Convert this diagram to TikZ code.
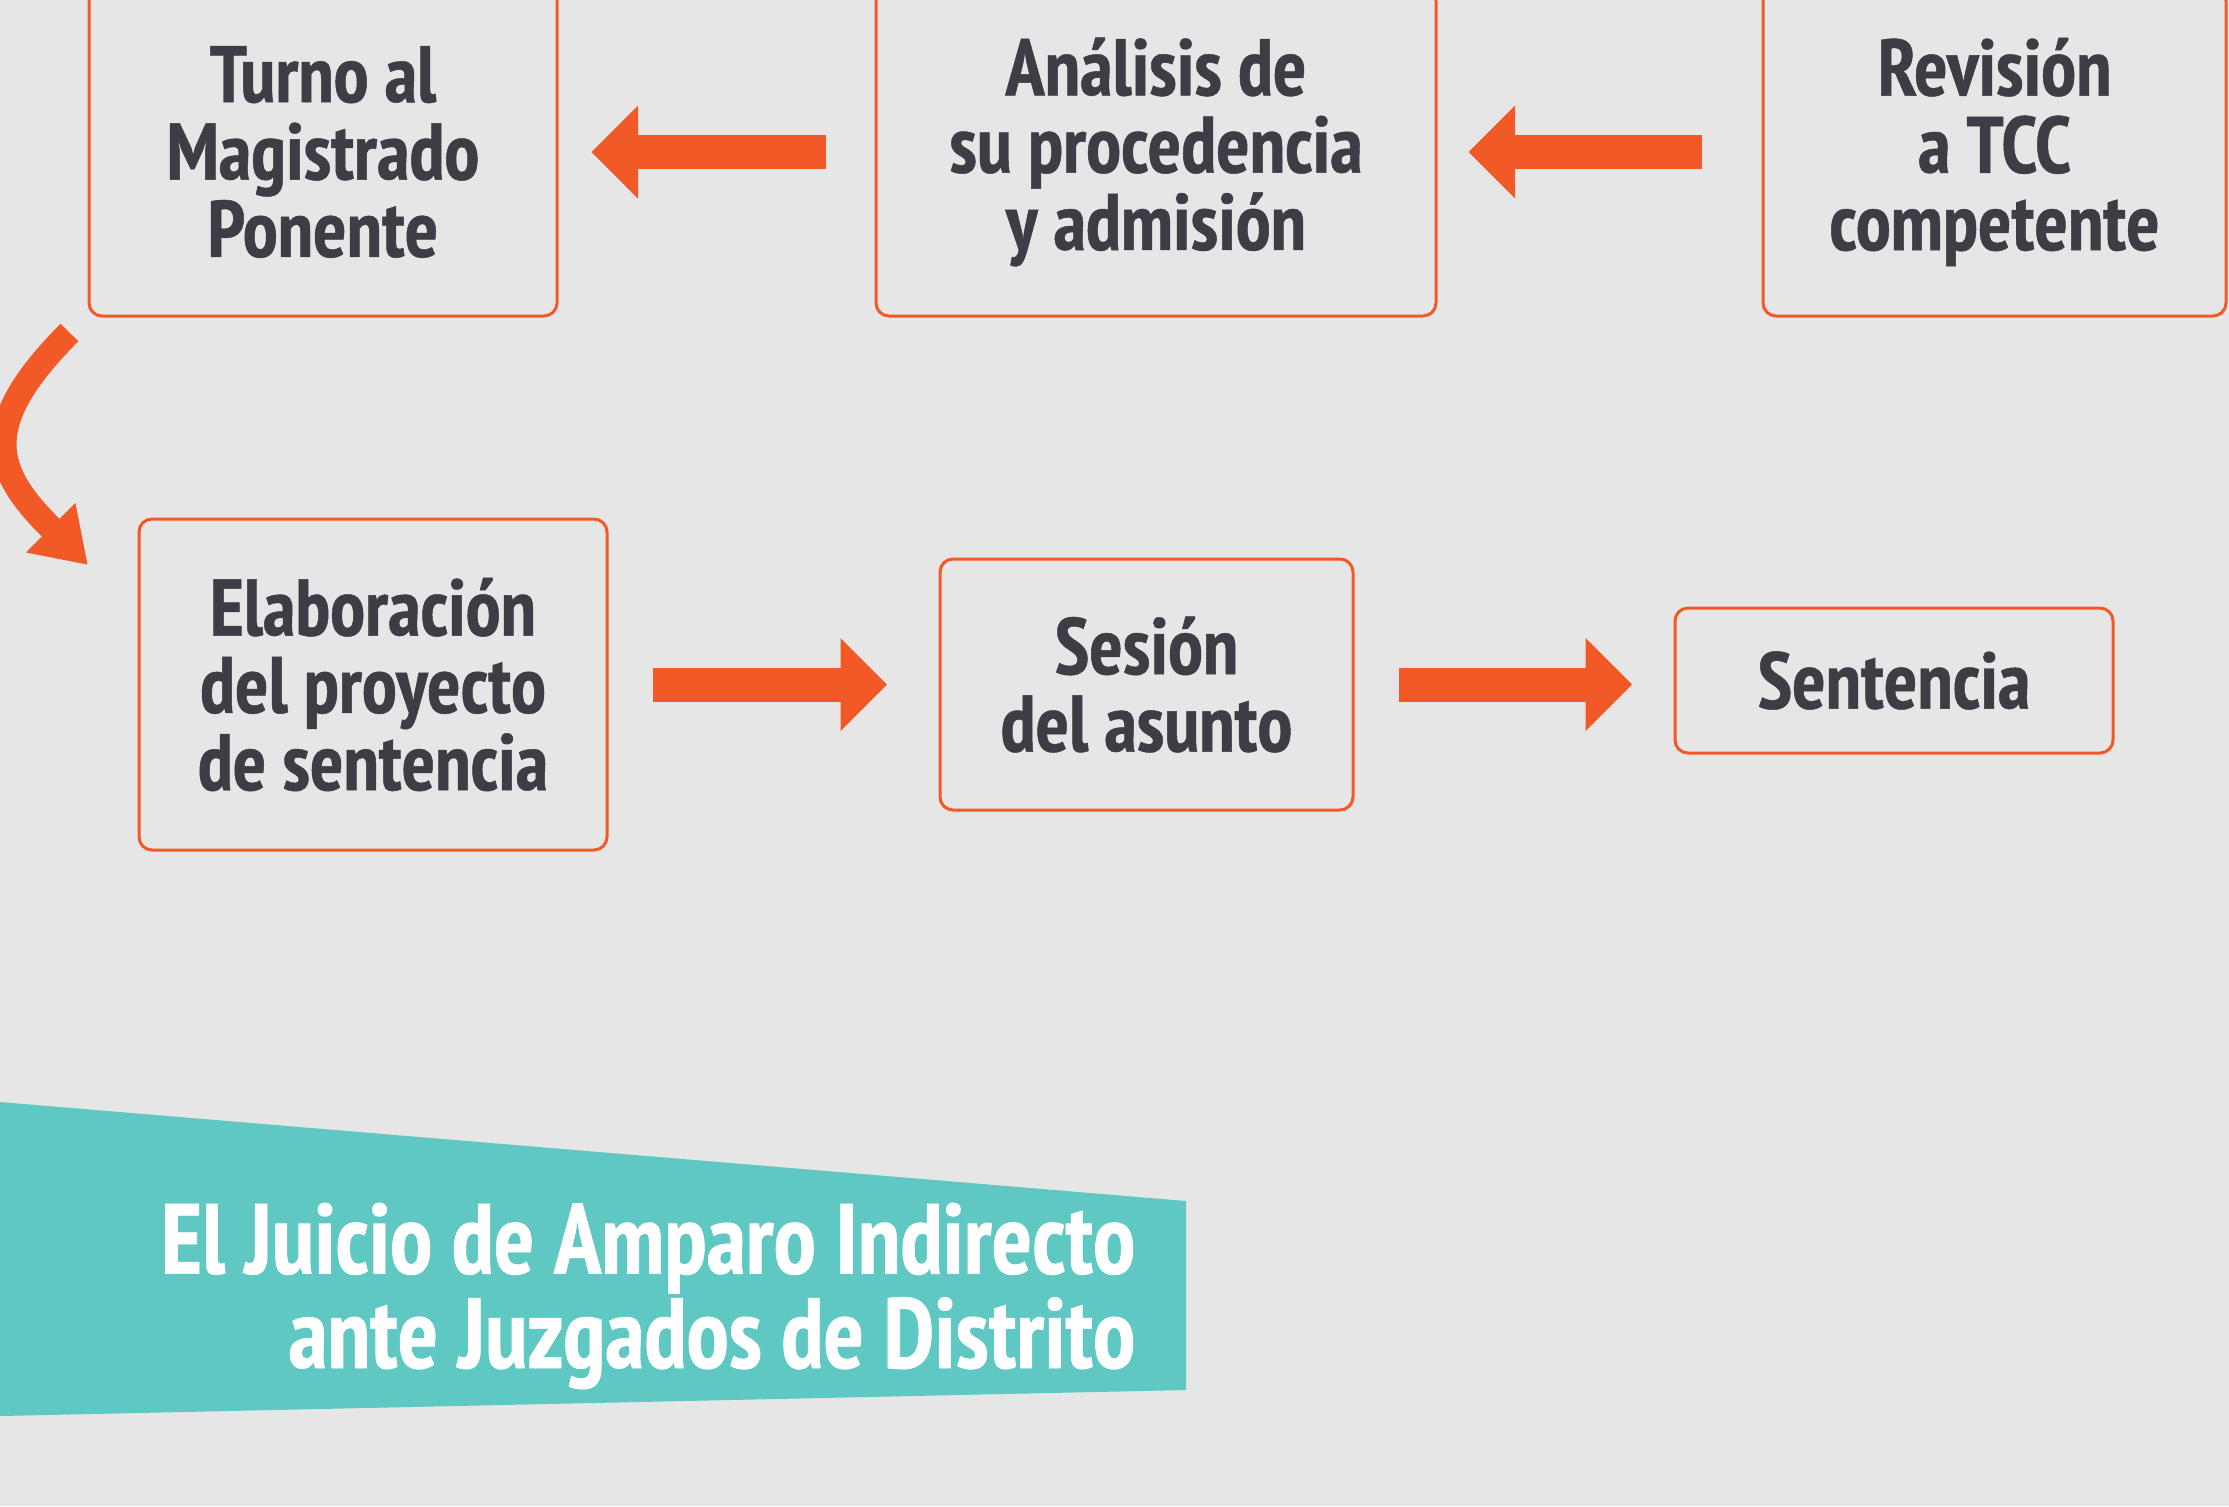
\documentclass[tikz,border=0pt]{standalone}
\usepackage{fontspec}
\newfontfamily\cond{PT Sans Narrow}[FakeStretch=0.98, FakeBold=0.6]
\newfontfamily\condtit{PT Sans Narrow}[FakeStretch=0.95, FakeBold=0.6]
\usetikzlibrary{arrows.meta}
\definecolor{fondo}{HTML}{E6E6E6}
\definecolor{naranja}{HTML}{F15A27}
\definecolor{turquesa}{HTML}{5FC8C3}
\definecolor{tinta}{HTML}{3D3D45}
\begin{document}
\begin{tikzpicture}
    \tikzstyle{every node} = [align=center]
    \tikzstyle{paso} = [draw=naranja, line width=0.03cm, rounded corners=0.13cm, text=tinta, font=\cond\bfseries\fontsize{22.8}{22}\selectfont, inner sep=0pt]
    \tikzstyle{flecha} = [draw=naranja, line width=0.34cm, -{Triangle[length=0.465cm, width=0.93cm, line width=0pt]}]
    \tikzstyle{curva} = [draw=naranja, line width=0.25cm, -{Triangle[length=0.52cm, width=0.70cm, line width=0pt]}]
    \fill[fondo] (0,0) rectangle (22.29,-15.06);
    \useasboundingbox (0,0) rectangle (22.29,-15.06);
    \node [paso, minimum width=4.68cm, minimum height=3.28cm] (turno) at (3.23,-1.52) {Turno al \\ Magistrado \\ Ponente};
    \node [paso, minimum width=5.60cm, minimum height=3.28cm] (analisis) at (11.56,-1.52) {Análisis de \\ su procedencia \\ y admisión};
    \node [paso, minimum width=4.63cm, minimum height=3.28cm] (revision) at (19.945,-1.52) {Revisión \\ a TCC \\ competente};
    \node [paso, minimum width=4.68cm, minimum height=3.31cm] (proyecto) at (3.73,-6.845) {Elaboración \\ del proyecto \\ de sentencia};
    \node [paso, minimum width=4.13cm, minimum height=2.51cm] (sesion) at (11.465,-6.845) {Sesión \\ del asunto};
    \node [paso, minimum width=4.38cm, minimum height=1.45cm] (sentencia) at (18.94,-6.805) {Sentencia};
    \draw [flecha, shorten <=0.60cm, shorten >=0.31cm] (revision.west) -- (analisis.east);
    \draw [flecha, shorten <=0.49cm, shorten >=0.33cm] (analisis.west) -- (turno.east);
    \draw [flecha, shorten <=0.44cm, shorten >=0.515cm] (proyecto.east) -- (sesion.west);
    \draw [flecha, shorten <=0.445cm, shorten >=0.415cm] (sesion.east) -- (sentencia.west |- sesion.east);
    \draw [curva] ([shift={(-0.18,-0.15)}]turno.south west) to[out=225, in=135, looseness=1.45] ([shift={(-0.50,-0.47)}]proyecto.north west);
    \fill[turquesa] (0,-11.02) -- (11.86,-12.01) -- (11.86,-13.90) -- (0,-14.16) -- cycle;
    \node [anchor=base east, align=right, text=white, inner sep=0pt, font=\condtit\bfseries\fontsize{28.4}{25.6}\selectfont] (titulo) at (11.36,-13.68) {El Juicio de Amparo Indirecto \\ ante Juzgados de Distrito};
\end{tikzpicture}
\end{document}
